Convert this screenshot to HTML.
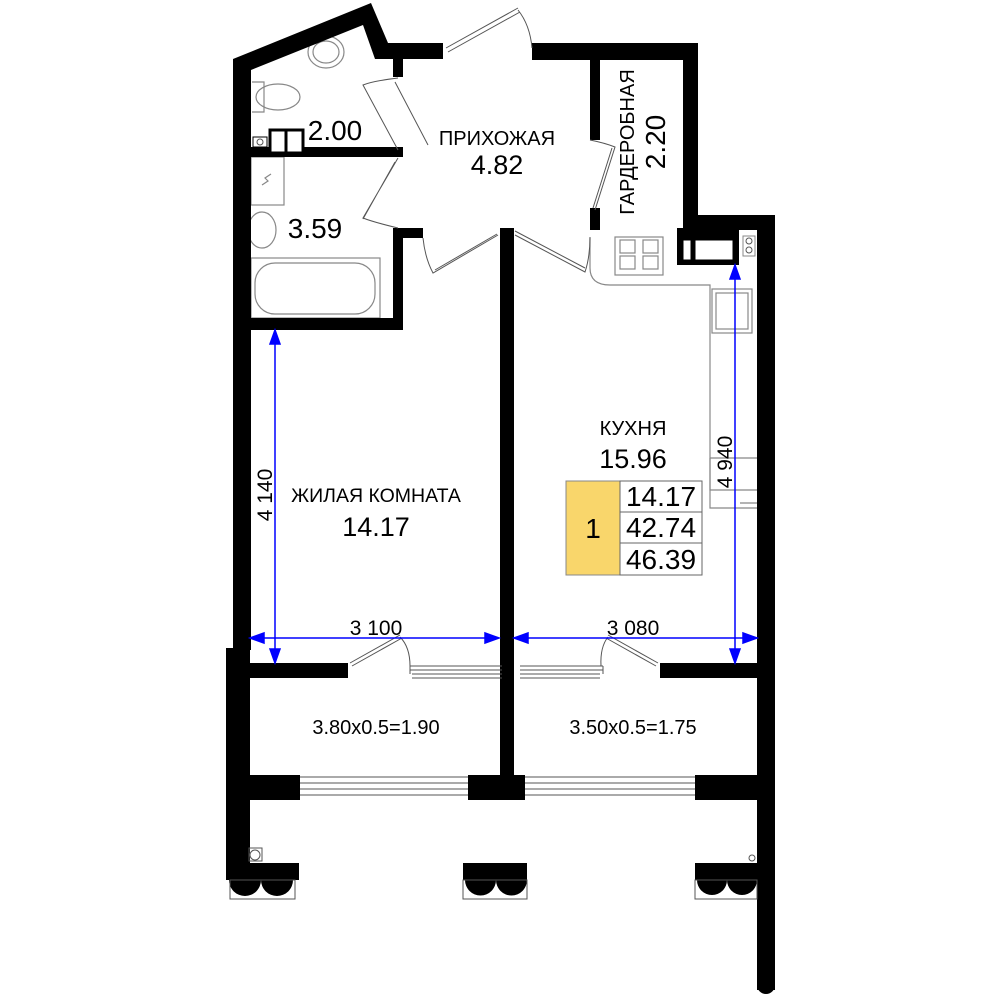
<!DOCTYPE html>
<html><head><meta charset="utf-8"><style>
html,body{margin:0;padding:0;background:#fff}
svg{display:block}
text{font-family:"Liberation Sans",sans-serif;fill:#000}
</style></head><body>
<svg width="1000" height="1000" viewBox="0 0 1000 1000">
<g fill="none" stroke="#888" stroke-width="1.2">
 <ellipse cx="326" cy="52" rx="18" ry="16"/>
 <ellipse cx="326" cy="52" rx="13" ry="11"/>
 <path d="M252 82 h12 v30 h-12"/>
 <ellipse cx="278" cy="97" rx="22" ry="13"/>
 <rect x="251" y="157" width="33" height="48"/>
 <path d="M262 185 l6 -4 l-3 -3 l6 -4" />
 <ellipse cx="262" cy="230" rx="14" ry="18"/>
 <rect x="251" y="258" width="129" height="60"/>
 <rect x="255" y="263" width="120" height="51" rx="20"/>
 <rect x="615" y="237" width="48" height="38"/>
 <rect x="620" y="240" width="15" height="13"/><rect x="643" y="240" width="15" height="13"/>
 <rect x="620" y="256" width="15" height="13"/><rect x="643" y="256" width="15" height="13"/>
 <path d="M590 238 v30 q0 17 20 17 h100 v205 h47"/>
 <rect x="712" y="289" width="40" height="44"/>
 <rect x="716" y="293" width="32" height="36"/>
 <path d="M710 458 h47 M740 503 h17 M710 458 v50 h47"/>
</g>
<g fill="#000">
 <polygon points="233,59 371,3 388,43 443,43 443,59 403,59 403,77 393,77 393,59 375,59 363,25 251,70 251,650 233,650"/>
 <rect x="251" y="147" width="152" height="10"/>
 <rect x="393" y="228" width="10" height="102"/>
 <rect x="233" y="318" width="170" height="12"/>
 <rect x="403" y="228" width="20" height="10"/>
 <rect x="532" y="43" width="166" height="17"/>
 <rect x="683" y="43" width="15" height="185"/>
 <rect x="590" y="59" width="10" height="81"/>
 <rect x="590" y="208" width="10" height="22"/>
 <rect x="683" y="215" width="92" height="15"/>
 <rect x="677" y="228" width="62" height="37"/>
 <rect x="757" y="215" width="18" height="775"/>
 <circle cx="766" cy="985" r="9"/>
 <rect x="500" y="228" width="14" height="572"/>
 <rect x="226" y="648" width="24" height="232"/>
 <rect x="250" y="663" width="98" height="15"/>
 <rect x="660" y="663" width="97" height="15"/>
 <rect x="250" y="775" width="50" height="25"/>
 <rect x="468" y="775" width="57" height="25"/>
 <rect x="695" y="775" width="62" height="25"/>
 <rect x="250" y="863" width="49" height="17"/>
 <rect x="463" y="863" width="64" height="17"/>
 <rect x="695" y="863" width="62" height="17"/>
 <path d="M229 880 a16 16 0 0 0 32 0 a16 16 0 0 0 32 0 z"/>
 <path d="M465 880 a15.5 15.5 0 0 0 31 0 a15.5 15.5 0 0 0 31 0 z"/>
 <path d="M697 880 a15 15 0 0 0 30 0 a15 15 0 0 0 30 0 z"/>
</g>
<g fill="#fff" stroke="#000" stroke-width="1">
 <rect x="683" y="240" width="8" height="20"/>
 <rect x="695" y="240" width="38" height="20"/>
 <rect x="270" y="130" width="33" height="23" stroke-width="3"/>
 <rect x="253" y="137" width="14" height="10"/>
 <rect x="743" y="236" width="12" height="20" stroke="#888"/>
</g>
<g fill="none" stroke="#555" stroke-width="1">
 <line x1="286" y1="130" x2="286" y2="153" stroke="#000" stroke-width="3"/>
 <circle cx="260" cy="142" r="3"/>
 <circle cx="749" cy="241" r="3"/><circle cx="749" cy="250" r="3"/>
 <rect x="230" y="880" width="65" height="19"/>
 <rect x="463" y="880" width="64" height="19"/>
 <rect x="695" y="880" width="62" height="19"/>
 <rect x="249" y="848" width="13" height="13"/><circle cx="255" cy="855" r="5"/>
 <circle cx="752" cy="858" r="3"/>
 <path d="M410 666 h92 M410 670 h92 M412 674 h90 M412 678 h90 M410 666 v8"/>
 <path d="M520 666 h83 M520 670 h83 M520 674 h80 M520 678 h80 M603 666 v8"/>
 <path d="M300 777 h168 M300 783 h168 M300 789 h168 M300 795 h168"/>
 <path d="M525 777 h170 M525 783 h170 M525 789 h170 M525 795 h170"/>
 <path d="M350 663 l50 -28 M352 666 l50 -28"/>
 <path d="M400 637 q10 10 10 29"/>
 <path d="M658 663 l-50 -28 M656 666 l-50 -28"/>
 <path d="M608 637 q-8 10 -7 29"/>
 <path d="M448 52 l72 -40 M446 48 l72 -40 M518 10 q12 15 14 38"/>
 <path d="M398 78 q-25 3 -35 7 l35 65 M395 82 l33 63"/>
 <path d="M398 158 l-35 60 q10 4 35 10 M395 162 l-32 57"/>
 <path d="M423 238 q2 20 10 35 l65 -38 M435 270 l62 -36"/>
 <path d="M515 235 l70 37 q5 -15 5 -35 M515 231 l70 37"/>
 <path d="M590 140 q15 3 25 7 l-20 63 M612 148 l-19 60"/>
</g>
<g stroke="#00f" stroke-width="1.5" fill="#00f">
 <line x1="253" y1="638" x2="497" y2="638"/>
 <polygon points="250,638 264,633 264,643"/><polygon points="499,638 485,633 485,643"/>
 <line x1="517" y1="638" x2="755" y2="638"/>
 <polygon points="514,638 528,633 528,643"/><polygon points="757,638 743,633 743,643"/>
 <line x1="275" y1="333" x2="275" y2="660"/>
 <polygon points="275,330 270,344 280,344"/><polygon points="275,663 270,649 280,649"/>
 <line x1="735" y1="268" x2="735" y2="660"/>
 <polygon points="735,265 730,279 740,279"/><polygon points="735,663 730,649 740,649"/>
</g>
<rect x="566" y="481" width="54" height="94" fill="#f9d66b" stroke="#888"/>
<g fill="#fff" stroke="#666"><rect x="620" y="481" width="82" height="31"/><rect x="620" y="512" width="82" height="31"/><rect x="620" y="543" width="82" height="32"/></g>
<g font-size="28" text-anchor="middle">
 <text x="593" y="538">1</text>
 <text x="661" y="506">14.17</text>
 <text x="661" y="537">42.74</text>
 <text x="661" y="569">46.39</text>
</g>
<g text-anchor="middle">
 <text x="497" y="145" font-size="20">ПРИХОЖАЯ</text>
 <text x="497" y="174" font-size="27">4.82</text>
 <text x="335" y="140" font-size="28">2.00</text>
 <text x="315" y="238" font-size="28">3.59</text>
 <text x="633" y="435" font-size="20">КУХНЯ</text>
 <text x="633" y="468" font-size="27">15.96</text>
 <text x="376" y="502" font-size="19.5">ЖИЛАЯ КОМНАТА</text>
 <text x="376" y="536" font-size="27">14.17</text>
 <text x="376" y="734" font-size="20">3.80x0.5=1.90</text>
 <text x="633" y="734" font-size="20">3.50x0.5=1.75</text>
 <text x="376" y="635" font-size="21">3 100</text>
 <text x="633" y="635" font-size="21">3 080</text>
 <text transform="translate(634,142) rotate(-90)" font-size="20">ГАРДЕРОБНАЯ</text>
 <text transform="translate(665,142) rotate(-90)" font-size="28">2.20</text>
 <text transform="translate(272,495) rotate(-90)" font-size="21">4 140</text>
 <text transform="translate(732,462) rotate(-90)" font-size="21">4 940</text>
</g>
</svg>
</body></html>
